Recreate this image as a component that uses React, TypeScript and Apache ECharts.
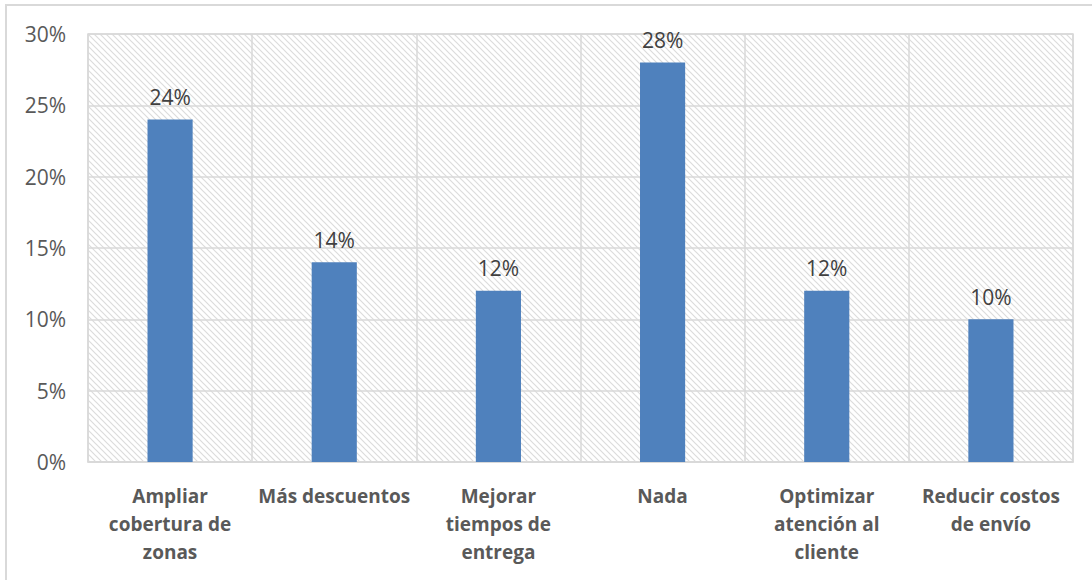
import React, { useEffect, useRef } from "react";
import * as echarts from "echarts";

const categories = [
  "Ampliar\ncobertura de\nzonas",
  "Más descuentos",
  "Mejorar\ntiempos de\nentrega",
  "Nada",
  "Optimizar\natención al\ncliente",
  "Reducir costos\nde envío",
];
const values = [24, 14, 12, 28, 12, 10];
const yMin = 0;
const yMax = 30;
const yStep = 5;

function makeHatch(): HTMLCanvasElement {
  const c = document.createElement("canvas");
  const s = 6;
  c.width = s;
  c.height = s;
  const ctx = c.getContext("2d")!;
  ctx.fillStyle = "#ffffff";
  ctx.fillRect(0, 0, s, s);
  ctx.strokeStyle = "#dcdcdc";
  ctx.lineWidth = 1.2;
  ctx.beginPath();
  ctx.moveTo(-1, -1);
  ctx.lineTo(s + 1, s + 1);
  ctx.moveTo(-s - 1, -1);
  ctx.lineTo(1, s + 1);
  ctx.moveTo(s - 1, -1);
  ctx.lineTo(2 * s + 1, s + 1);
  ctx.stroke();
  return c;
}

export default function App() {
  const ref = useRef<HTMLDivElement>(null);
  useEffect(() => {
    if (!ref.current) return;
    const chart = echarts.init(ref.current, undefined, { renderer: "svg" });
    const hatch = makeHatch();
    chart.setOption({
      animation: false,
      backgroundColor: "#ffffff",
      textStyle: { fontFamily: "Open Sans" },
      graphic: [
        {
          type: "rect",
          shape: { x: 6, y: 5, width: 1200, height: 700 },
          style: { fill: "none", stroke: "#d9d9d9", lineWidth: 2 },
          silent: true,
        },
      ],
      grid: {
        left: 88,
        right: 19,
        top: 34,
        bottom: 118,
        show: true,
        backgroundColor: { image: hatch, repeat: "repeat" },
        borderColor: "#d9d9d9",
        borderWidth: 1.5,
      },
      xAxis: {
        type: "category",
        data: categories,
        axisLine: { show: true, lineStyle: { color: "#d9d9d9", width: 1.5 } },
        axisTick: { show: false },
        splitLine: { show: true, lineStyle: { color: "#d9d9d9", width: 1.5 } },
        axisLabel: {
          color: "#595959",
          fontSize: 19,
          fontWeight: "bold",
          fontFamily: "Open Sans",
          lineHeight: 28,
          margin: 20,
          interval: 0,
        },
      },
      yAxis: {
        type: "value",
        min: yMin,
        max: yMax,
        interval: yStep,
        axisLine: { show: false },
        axisTick: { show: false },
        splitLine: { show: true, lineStyle: { color: "#d9d9d9", width: 1.5 } },
        axisLabel: {
          color: "#595959",
          fontSize: 21,
          fontFamily: "Open Sans",
          margin: 22,
          formatter: "{value}%",
        },
      },
      series: [
        {
          type: "bar",
          data: values,
          barWidth: "27.5%",
          itemStyle: { color: "#4f81bd" },
          label: {
            show: true,
            position: "top",
            distance: 12,
            color: "#404040",
            fontSize: 21,
            fontFamily: "Open Sans",
            formatter: "{c}%",
          },
        },
      ],
    });
    return () => chart.dispose();
  }, []);
  return (
    <div
      ref={ref}
      style={{ position: "absolute", left: 0, top: 0, width: 1092, height: 580 }}
    />
  );
}
